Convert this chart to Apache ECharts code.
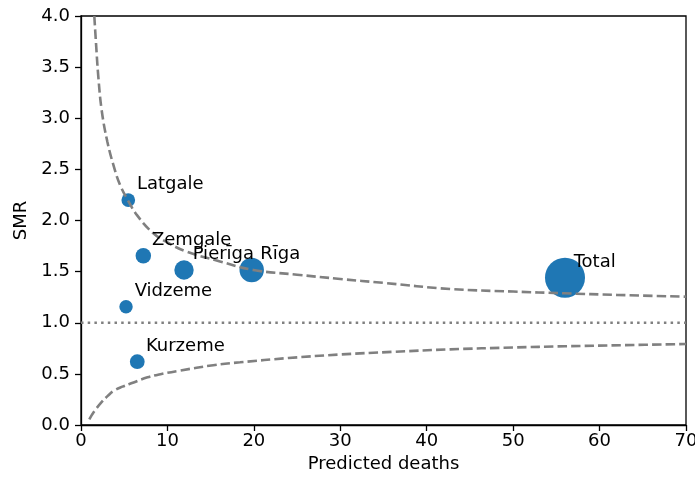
<!DOCTYPE html>
<html>
<head>
<meta charset="utf-8">
<script src="https://cdn.jsdelivr.net/npm/echarts@6/dist/echarts.min.js"></script>
<style>
html,body{margin:0;padding:0;background:#fff;}
#chart{width:695px;height:483px;}
</style>
</head>
<body>
<div id="chart"></div>
<script>
// ---- data ----
var regions   = ['Latgale', 'Zemgale', 'Pierīga', 'Rīga', 'Vidzeme', 'Kurzeme', 'Total'];
var predicted = [5.47, 7.21, 11.92, 19.75, 5.21, 6.51, 56.0];
var smr       = [2.20, 1.656, 1.516, 1.516, 1.157, 0.619, 1.441];

// upper 95% limit (dashed)
var upperX = [1.54, 1.74, 2.0, 2.39, 3.05, 3.93, 4.51, 5.28, 6.5, 8.37, 10, 12.22, 16.08, 19.94, 25, 30, 35, 42.7, 50, 55.9, 62, 70];
var upperY = [4.0, 3.73, 3.41, 3.08, 2.77, 2.49, 2.35, 2.22, 2.05, 1.875, 1.785, 1.695, 1.60, 1.516, 1.47, 1.428, 1.39, 1.33, 1.305, 1.288, 1.272, 1.255];
// lower 95% limit (dashed)
var lowerX = [0.96, 1.5, 2.43, 3.1, 3.8, 4.8, 5.9, 7.7, 9.2, 11.45, 15.3, 18.4, 24, 30, 36, 42.7, 50, 56, 63, 70];
var lowerY = [0.056, 0.13, 0.228, 0.285, 0.335, 0.375, 0.41, 0.466, 0.497, 0.532, 0.585, 0.613, 0.655, 0.69, 0.715, 0.74, 0.758, 0.77, 0.781, 0.792];
// reference line SMR = 1 (dotted)
var refX = [0, 70];
var refY = [1, 1];

var xTicks = [0, 10, 20, 30, 40, 50, 60, 70];
var yTicks = [0.0, 0.5, 1.0, 1.5, 2.0, 2.5, 3.0, 3.5, 4.0];

// ---- build ----
function zip(a, b) { return a.map(function (v, i) { return [v, b[i]]; }); }

var pts = regions.map(function (n, i) { return { name: n, value: [predicted[i], smr[i]] }; });
var labelPts = regions.map(function (n, i) { return { name: n, value: [predicted[i] + 1, smr[i] + 0.1] }; });

var FONT = 'DejaVu Sans';
var FS = 18;
var grey = '#808080';

var chart = echarts.init(document.getElementById('chart'), null, { renderer: 'canvas' });
chart.setOption({
  animation: false,
  backgroundColor: '#fff',
  textStyle: { fontFamily: FONT },
  grid: { left: 81, right: 9, top: 16, bottom: 58, containLabel: false, outerBoundsMode: 'none',
    show: true, borderColor: '#000', borderWidth: 1.3, backgroundColor: 'transparent' },
  xAxis: {
    type: 'value', min: xTicks[0], max: xTicks[xTicks.length - 1], interval: 10,
    name: 'Predicted deaths', nameLocation: 'middle', nameGap: 28,
    nameTextStyle: { fontFamily: FONT, fontSize: FS, color: '#000' },
    axisLine: { show: true, onZero: false, lineStyle: { color: '#000', width: 1.3 } },
    axisTick: { show: true, length: 6, lineStyle: { color: '#000', width: 1.3 } },
    axisLabel: { fontFamily: FONT, fontSize: FS, color: '#000', margin: 7 },
    splitLine: { show: false }
  },
  yAxis: {
    type: 'value', min: yTicks[0], max: yTicks[yTicks.length - 1], interval: 0.5,
    name: 'SMR', nameLocation: 'middle', nameGap: 48, nameRotate: 90,
    nameTextStyle: { fontFamily: FONT, fontSize: FS, color: '#000' },
    axisLine: { show: true, onZero: false, lineStyle: { color: '#000', width: 1.3 } },
    axisTick: { show: true, length: 6, lineStyle: { color: '#000', width: 1.3 } },
    axisLabel: { fontFamily: FONT, fontSize: FS, color: '#000', margin: 11,
      formatter: function (v) { return v.toFixed(1); } },
    splitLine: { show: false }
  },
  series: [
    {
      type: 'scatter', z: 2, data: pts,
      symbolSize: function (v) { return 5.12 * Math.sqrt(v[0]) + 1.7; },
      itemStyle: { color: '#1f77b4', opacity: 1 },
      emphasis: { disabled: true }, silent: true
    },
    {
      type: 'line', z: 3, data: zip(upperX, upperY), showSymbol: false, symbol: 'none',
      smooth: 0.4, clip: true,
      lineStyle: { color: grey, width: 2.6, type: [9.4, 4.1], cap: 'butt' }, silent: true
    },
    {
      type: 'line', z: 3, data: zip(lowerX, lowerY), showSymbol: false, symbol: 'none',
      smooth: 0.4, clip: true,
      lineStyle: { color: grey, width: 2.6, type: [9.4, 4.1], cap: 'butt' }, silent: true
    },
    {
      type: 'line', z: 3, data: zip(refX, refY), showSymbol: false, symbol: 'none',
      lineStyle: { color: grey, width: 2.6, type: [2.5, 4.2], cap: 'butt' }, silent: true
    },
    {
      type: 'scatter', z: 5, data: labelPts, symbolSize: 1,
      itemStyle: { color: 'rgba(0,0,0,0)' },
      label: { show: true, position: 'inside', align: 'left', verticalAlign: 'bottom',
        offset: [0, 4], formatter: '{b}', fontFamily: FONT, fontSize: FS, color: '#000',
        opacity: 1, textBorderWidth: 0 },
      emphasis: { disabled: true }, silent: true
    }
  ]
});
</script>
</body>
</html>
